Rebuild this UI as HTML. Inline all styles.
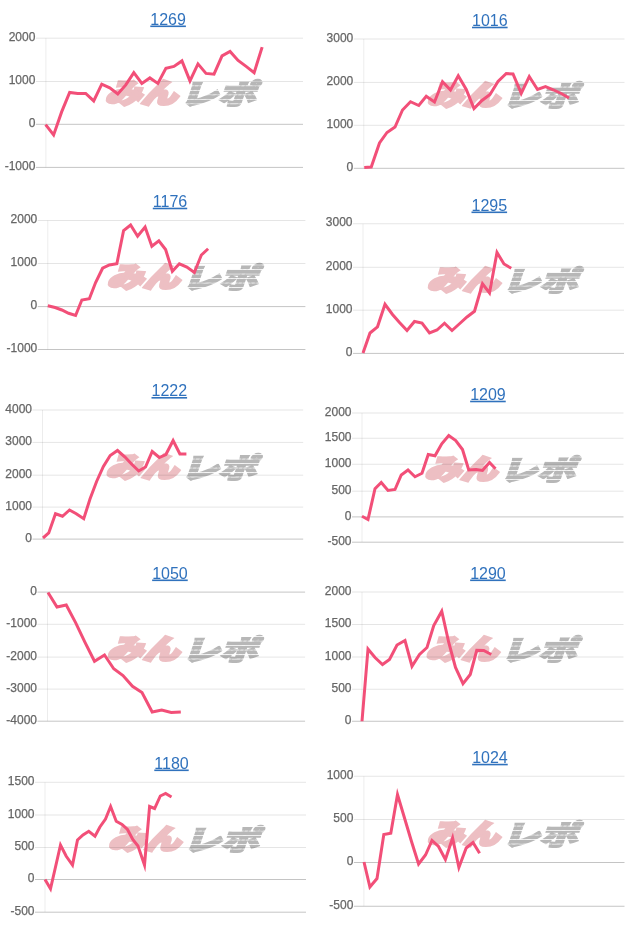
<!DOCTYPE html>
<html lang="ja"><head><meta charset="utf-8"><title>グラフ</title>
<style>
html,body{margin:0;padding:0;background:#fff;}
body{width:640px;height:931px;overflow:hidden;position:relative;}
svg{position:absolute;left:0;top:0;display:block;will-change:transform;}
.t{font-family:"Liberation Sans",Arial,sans-serif;font-size:12px;fill:#666;stroke:#666;stroke-width:0.25px;text-anchor:end;}
.tt{font-family:"Liberation Sans",Arial,sans-serif;font-size:16px;fill:#3072bd;text-decoration:underline;}
.ln{fill:none;stroke:#f24f78;stroke-width:3;stroke-linejoin:miter;stroke-miterlimit:10;}
.w1,.w2{font-family:"Noto Sans CJK JP",sans-serif;font-weight:900;font-size:27.5px;}
.w1{fill:#edbfc3;stroke:#edbfc3;stroke-width:3px;stroke-linejoin:miter;}
.w2{fill:url(#st);stroke:url(#st);stroke-width:2.2px;stroke-linejoin:miter;}
</style></head>
<body>
<svg width="640" height="931" viewBox="0 0 640 931">
<defs>
<pattern id="st" width="6" height="4.5" patternUnits="userSpaceOnUse"><rect width="6" height="3.7" fill="#b7b7b7"/></pattern>
</defs>
<g transform="translate(104.99,103.3) scale(1.313,1) skewX(-14)"><text class="w1" x="0" y="0">みん</text></g>
<g transform="translate(180,104.3) scale(1.37,1) skewX(-14)"><text class="w2" x="0" y="0">レポ</text></g>
<line x1="35.9" y1="38.2" x2="303" y2="38.2" stroke="rgba(0,0,0,0.1)"/>
<line x1="35.9" y1="81.5" x2="303" y2="81.5" stroke="rgba(0,0,0,0.1)"/>
<line x1="35.9" y1="124.3" x2="303" y2="124.3" stroke="rgba(0,0,0,0.23)"/>
<line x1="35.9" y1="167.4" x2="303" y2="167.4" stroke="rgba(0,0,0,0.23)"/>
<line x1="45.9" y1="38.2" x2="45.9" y2="167.4" stroke="rgba(0,0,0,0.075)"/>
<text x="35.4" y="40.9" class="t">2000</text>
<text x="35.4" y="84.2" class="t">1000</text>
<text x="35.4" y="127" class="t">0</text>
<text x="35.4" y="170.1" class="t">-1000</text>
<polyline points="45.6,124.65 53.62,134.9 61.64,111.9 69.66,92.4 77.68,93.4 85.7,93.4 93.72,100.9 101.74,84.15 109.76,87.9 117.78,93.9 125.8,84.9 133.82,72.65 141.84,83.4 149.86,77.9 157.88,83.4 165.9,68.4 173.92,66.4 181.94,60.9 189.96,80.9 197.98,63.9 206,73.4 214.02,74.15 222.04,55.9 230.06,51.4 238.08,60.4 246.1,66.4 254.12,72.65 262.14,47.15" class="ln"/>
<a href="#" class="ti"><text x="150.3" y="24.5" class="tt">1269</text></a>
<g transform="translate(426.89,104.5) scale(1.313,1) skewX(-14)"><text class="w1" x="0" y="0">みん</text></g>
<g transform="translate(501.9,105.5) scale(1.37,1) skewX(-14)"><text class="w2" x="0" y="0">レポ</text></g>
<line x1="353.8" y1="39" x2="624.5" y2="39" stroke="rgba(0,0,0,0.1)"/>
<line x1="353.8" y1="82.4" x2="624.5" y2="82.4" stroke="rgba(0,0,0,0.1)"/>
<line x1="353.8" y1="125.3" x2="624.5" y2="125.3" stroke="rgba(0,0,0,0.1)"/>
<line x1="353.8" y1="168.3" x2="624.5" y2="168.3" stroke="rgba(0,0,0,0.23)"/>
<line x1="363.8" y1="39" x2="363.8" y2="168.3" stroke="rgba(0,0,0,0.075)"/>
<text x="353.3" y="41.7" class="t">3000</text>
<text x="353.3" y="85.1" class="t">2000</text>
<text x="353.3" y="128" class="t">1000</text>
<text x="353.3" y="171" class="t">0</text>
<polyline points="364.25,167.5 371.25,167 379.5,143 387,132.5 395,127 402.5,110 410.5,101.75 418.75,105.5 426.25,96.25 434.5,102 442.5,81.8 450.5,90 458.25,75.8 466.25,89.5 474,108.5 482,100.5 490,94.5 498,81.5 506.25,73.5 513,74 521.25,93.3 529.25,76.5 537.5,89.5 545.5,86.5 553.75,90 561.25,93.5 569,98" class="ln"/>
<a href="#" class="ti"><text x="472" y="25.7" class="tt">1016</text></a>
<g transform="translate(106.89,287) scale(1.313,1) skewX(-14)"><text class="w1" x="0" y="0">みん</text></g>
<g transform="translate(181.9,288) scale(1.37,1) skewX(-14)"><text class="w2" x="0" y="0">レポ</text></g>
<line x1="37.8" y1="220.5" x2="305.4" y2="220.5" stroke="rgba(0,0,0,0.1)"/>
<line x1="37.8" y1="263.5" x2="305.4" y2="263.5" stroke="rgba(0,0,0,0.1)"/>
<line x1="37.8" y1="306.6" x2="305.4" y2="306.6" stroke="rgba(0,0,0,0.23)"/>
<line x1="37.8" y1="349.5" x2="305.4" y2="349.5" stroke="rgba(0,0,0,0.23)"/>
<line x1="47.8" y1="220.5" x2="47.8" y2="349.5" stroke="rgba(0,0,0,0.075)"/>
<text x="37.3" y="223.2" class="t">2000</text>
<text x="37.3" y="266.2" class="t">1000</text>
<text x="37.3" y="309.3" class="t">0</text>
<text x="37.3" y="352.2" class="t">-1000</text>
<polyline points="47.8,305.75 55.1,307.5 61.85,310 68.6,313.25 75.6,315.5 81.85,300 89.35,298.75 95.6,282.5 102.6,268.25 109.35,265 116.85,263.75 123.6,230.5 130.6,225 137.6,236.25 145.1,227 151.85,246.25 158.85,240.75 165.6,249.5 172.35,271.25 179.35,263.75 186.85,267 194.35,272.5 201.35,255 208.1,248.75" class="ln"/>
<a href="#" class="ti"><text x="152.8" y="206.7" class="tt">1176</text></a>
<g transform="translate(426.89,290) scale(1.313,1) skewX(-14)"><text class="w1" x="0" y="0">みん</text></g>
<g transform="translate(501.9,291) scale(1.37,1) skewX(-14)"><text class="w2" x="0" y="0">レポ</text></g>
<line x1="353" y1="223.75" x2="624" y2="223.75" stroke="rgba(0,0,0,0.1)"/>
<line x1="353" y1="267.3" x2="624" y2="267.3" stroke="rgba(0,0,0,0.1)"/>
<line x1="353" y1="310.2" x2="624" y2="310.2" stroke="rgba(0,0,0,0.1)"/>
<line x1="353" y1="353.4" x2="624" y2="353.4" stroke="rgba(0,0,0,0.23)"/>
<line x1="363" y1="223.75" x2="363" y2="353.4" stroke="rgba(0,0,0,0.075)"/>
<text x="352.5" y="226.45" class="t">3000</text>
<text x="352.5" y="270" class="t">2000</text>
<text x="352.5" y="312.9" class="t">1000</text>
<text x="352.5" y="356.1" class="t">0</text>
<polyline points="363,353 370,333 377.5,326.8 385,304.3 392.5,314.5 399.5,322.5 407,330.5 414.5,321.5 422,323 429.5,333 437,330 444.5,323.25 452,330.5 459.5,323.75 467,317 474.5,311.25 482.5,283.75 489.5,293 497,252.5 504,264 511.25,268.3" class="ln"/>
<a href="#" class="ti"><text x="471.5" y="210.5" class="tt">1295</text></a>
<g transform="translate(105.64,476.5) scale(1.313,1) skewX(-14)"><text class="w1" x="0" y="0">みん</text></g>
<g transform="translate(180.65,477.5) scale(1.37,1) skewX(-14)"><text class="w2" x="0" y="0">レポ</text></g>
<line x1="32.5" y1="410" x2="303.2" y2="410" stroke="rgba(0,0,0,0.1)"/>
<line x1="32.5" y1="442.4" x2="303.2" y2="442.4" stroke="rgba(0,0,0,0.1)"/>
<line x1="32.5" y1="475.2" x2="303.2" y2="475.2" stroke="rgba(0,0,0,0.1)"/>
<line x1="32.5" y1="507.1" x2="303.2" y2="507.1" stroke="rgba(0,0,0,0.1)"/>
<line x1="32.5" y1="539.1" x2="303.2" y2="539.1" stroke="rgba(0,0,0,0.23)"/>
<line x1="42.5" y1="410" x2="42.5" y2="539.1" stroke="rgba(0,0,0,0.075)"/>
<text x="32" y="412.7" class="t">4000</text>
<text x="32" y="445.1" class="t">3000</text>
<text x="32" y="477.9" class="t">2000</text>
<text x="32" y="509.8" class="t">1000</text>
<text x="32" y="541.8" class="t">0</text>
<polyline points="43,538 48.75,533 55.5,513.75 62.5,516.25 69.5,510 76.25,513.75 83.75,518.75 90,499 96.6,481.5 103.4,466.5 110.2,455.5 117.5,450.5 125,457 132,464.5 138.75,471 145.5,467 152.2,451.5 159.3,457.5 165.9,454.5 173.1,440.5 179.9,454 186.4,454" class="ln"/>
<a href="#" class="ti"><text x="151.5" y="396" class="tt">1222</text></a>
<g transform="translate(424.39,479) scale(1.313,1) skewX(-14)"><text class="w1" x="0" y="0">みん</text></g>
<g transform="translate(499.4,480) scale(1.37,1) skewX(-14)"><text class="w2" x="0" y="0">レポ</text></g>
<line x1="352" y1="413" x2="623.5" y2="413" stroke="rgba(0,0,0,0.1)"/>
<line x1="352" y1="438.25" x2="623.5" y2="438.25" stroke="rgba(0,0,0,0.1)"/>
<line x1="352" y1="464.25" x2="623.5" y2="464.25" stroke="rgba(0,0,0,0.1)"/>
<line x1="352" y1="491.2" x2="623.5" y2="491.2" stroke="rgba(0,0,0,0.1)"/>
<line x1="352" y1="516.9" x2="623.5" y2="516.9" stroke="rgba(0,0,0,0.23)"/>
<line x1="352" y1="542.2" x2="623.5" y2="542.2" stroke="rgba(0,0,0,0.23)"/>
<line x1="362" y1="413" x2="362" y2="542.2" stroke="rgba(0,0,0,0.075)"/>
<text x="351.5" y="415.7" class="t">2000</text>
<text x="351.5" y="440.95" class="t">1500</text>
<text x="351.5" y="466.95" class="t">1000</text>
<text x="351.5" y="493.9" class="t">500</text>
<text x="351.5" y="519.6" class="t">0</text>
<text x="351.5" y="544.9" class="t">-500</text>
<polyline points="362,516.25 368,519.5 375,488.75 381.25,482.5 388,490.5 395,489.5 401.25,475 408,470 415,476.75 422,473.25 428.25,454.5 435,455.75 441.75,443.75 448.75,435.5 455.75,440.5 462.5,449.5 468.75,470 476,469.5 482.5,470.5 489.5,462.5 495.5,468.75" class="ln"/>
<a href="#" class="ti"><text x="470.15" y="399.7" class="tt">1209</text></a>
<g transform="translate(106.89,658.5) scale(1.313,1) skewX(-14)"><text class="w1" x="0" y="0">みん</text></g>
<g transform="translate(181.9,659.5) scale(1.37,1) skewX(-14)"><text class="w2" x="0" y="0">レポ</text></g>
<line x1="37.5" y1="592.1" x2="305.1" y2="592.1" stroke="rgba(0,0,0,0.23)"/>
<line x1="37.5" y1="624.3" x2="305.1" y2="624.3" stroke="rgba(0,0,0,0.1)"/>
<line x1="37.5" y1="657.1" x2="305.1" y2="657.1" stroke="rgba(0,0,0,0.1)"/>
<line x1="37.5" y1="689.1" x2="305.1" y2="689.1" stroke="rgba(0,0,0,0.1)"/>
<line x1="37.5" y1="721.2" x2="305.1" y2="721.2" stroke="rgba(0,0,0,0.23)"/>
<line x1="47.5" y1="592.1" x2="47.5" y2="721.2" stroke="rgba(0,0,0,0.075)"/>
<text x="37" y="594.8" class="t">0</text>
<text x="37" y="627" class="t">-1000</text>
<text x="37" y="659.8" class="t">-2000</text>
<text x="37" y="691.8" class="t">-3000</text>
<text x="37" y="723.9" class="t">-4000</text>
<polyline points="48,592.5 57,607 66.25,605 75.6,622.6 85,642.3 94.5,661.25 104.5,655 113.75,668.75 123,675.5 132.5,686.25 142,692.5 152.2,712 161.7,710 171.2,712.5 180.8,712" class="ln"/>
<a href="#" class="ti"><text x="152.15" y="578.5" class="tt">1050</text></a>
<g transform="translate(425.64,659) scale(1.313,1) skewX(-14)"><text class="w1" x="0" y="0">みん</text></g>
<g transform="translate(500.65,660) scale(1.37,1) skewX(-14)"><text class="w2" x="0" y="0">レポ</text></g>
<line x1="352" y1="592" x2="623.5" y2="592" stroke="rgba(0,0,0,0.1)"/>
<line x1="352" y1="624.5" x2="623.5" y2="624.5" stroke="rgba(0,0,0,0.1)"/>
<line x1="352" y1="657" x2="623.5" y2="657" stroke="rgba(0,0,0,0.1)"/>
<line x1="352" y1="689.25" x2="623.5" y2="689.25" stroke="rgba(0,0,0,0.1)"/>
<line x1="352" y1="721.25" x2="623.5" y2="721.25" stroke="rgba(0,0,0,0.23)"/>
<line x1="362" y1="592" x2="362" y2="721.25" stroke="rgba(0,0,0,0.075)"/>
<text x="351.5" y="594.7" class="t">2000</text>
<text x="351.5" y="627.2" class="t">1500</text>
<text x="351.5" y="659.7" class="t">1000</text>
<text x="351.5" y="691.95" class="t">500</text>
<text x="351.5" y="723.95" class="t">0</text>
<polyline points="362,721.25 368,649 375,657.5 382.5,664.5 389.5,659.5 397,645 405,640.5 412,666.25 419.5,654.5 427,647.5 433.75,625.5 441.75,611.25 448.75,642.5 455.5,667.5 463,683.75 470.25,674.5 476.75,650.25 483.75,650.5 491.25,654.5" class="ln"/>
<a href="#" class="ti"><text x="470.15" y="578.5" class="tt">1290</text></a>
<g transform="translate(108.14,848.5) scale(1.313,1) skewX(-14)"><text class="w1" x="0" y="0">みん</text></g>
<g transform="translate(183.15,849.5) scale(1.37,1) skewX(-14)"><text class="w2" x="0" y="0">レポ</text></g>
<line x1="35" y1="782.3" x2="306" y2="782.3" stroke="rgba(0,0,0,0.1)"/>
<line x1="35" y1="815" x2="306" y2="815" stroke="rgba(0,0,0,0.1)"/>
<line x1="35" y1="847.5" x2="306" y2="847.5" stroke="rgba(0,0,0,0.1)"/>
<line x1="35" y1="879.5" x2="306" y2="879.5" stroke="rgba(0,0,0,0.23)"/>
<line x1="35" y1="912.2" x2="306" y2="912.2" stroke="rgba(0,0,0,0.23)"/>
<line x1="45" y1="782.3" x2="45" y2="912.2" stroke="rgba(0,0,0,0.075)"/>
<text x="34.5" y="785" class="t">1500</text>
<text x="34.5" y="817.7" class="t">1000</text>
<text x="34.5" y="850.2" class="t">500</text>
<text x="34.5" y="882.2" class="t">0</text>
<text x="34.5" y="914.9" class="t">-500</text>
<polyline points="45,879.5 50.5,888.75 55.5,867 60.5,845 66.25,856.25 72.5,865 77.5,840 83,835 88.75,831.25 95,836.25 99.9,827 105.5,819 110.6,806.5 116.25,821.25 122,824.5 127.5,829.5 132.8,839.5 138,846 144.5,865 149.6,806.5 154.6,808.5 160.3,796 165.6,793.5 171.5,797" class="ln"/>
<a href="#" class="ti"><text x="154.3" y="768.5" class="tt">1180</text></a>
<g transform="translate(426.89,843.5) scale(1.313,1) skewX(-14)"><text class="w1" x="0" y="0">みん</text></g>
<g transform="translate(501.9,844.5) scale(1.37,1) skewX(-14)"><text class="w2" x="0" y="0">レポ</text></g>
<line x1="353.9" y1="776.25" x2="624.5" y2="776.25" stroke="rgba(0,0,0,0.1)"/>
<line x1="353.9" y1="819.5" x2="624.5" y2="819.5" stroke="rgba(0,0,0,0.1)"/>
<line x1="353.9" y1="862.5" x2="624.5" y2="862.5" stroke="rgba(0,0,0,0.23)"/>
<line x1="353.9" y1="906.25" x2="624.5" y2="906.25" stroke="rgba(0,0,0,0.23)"/>
<line x1="363.9" y1="776.25" x2="363.9" y2="906.25" stroke="rgba(0,0,0,0.075)"/>
<text x="353.4" y="778.95" class="t">1000</text>
<text x="353.4" y="822.2" class="t">500</text>
<text x="353.4" y="865.2" class="t">0</text>
<text x="353.4" y="908.95" class="t">-500</text>
<polyline points="364,862 369.9,887 377,878.5 383.8,834.5 390.8,833.3 397.5,794.5 404.5,818 411.5,841.5 418.6,864 425.5,855 432,840.5 438.5,846.5 445.4,859.5 452.6,838 458.9,867.5 466.2,848 473,842.5 479.6,853.3" class="ln"/>
<a href="#" class="ti"><text x="472.15" y="762.75" class="tt">1024</text></a>
</svg>
</body></html>
